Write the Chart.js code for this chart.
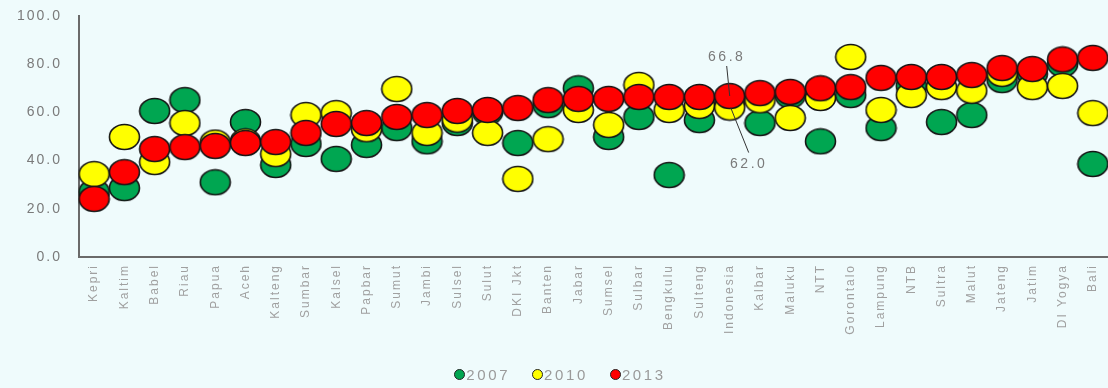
<!DOCTYPE html>
<html>
<head>
<meta charset="utf-8">
<script src="https://cdn.jsdelivr.net/npm/chart.js@4.4.1/dist/chart.umd.min.js"></script>
<style>
  html, body { margin: 0; padding: 0; background: #effbfc; }
  #wrap { position: relative; width: 1108px; height: 388px; }
  #legend { position: absolute; left: 6px; width: 1108px; top: 366px; text-align: center;
            font-family: "Liberation Sans", Arial, sans-serif; font-size: 15px; color: #9a9a9a; letter-spacing: 2.6px; }
  #legend span.item { display: inline-block; margin: 0 11px; }
  #legend span.dot { display: inline-block; width: 9px; height: 9px; border-radius: 50%;
                     border: 1px solid #222; margin-right: 1px; vertical-align: 0px; }
</style>
</head>
<body>
<div id="wrap">
  <canvas id="ipm-chart" width="1108" height="388"></canvas>
  <div id="legend"></div>
</div>
<script>
const provinces = ["Kepri","Kaltim","Babel","Riau","Papua","Aceh","Kalteng","Sumbar","Kalsel","Papbar",
  "Sumut","Jambi","Sulsel","Sulut","DKI Jkt","Banten","Jabar","Sumsel","Sulbar","Bengkulu",
  "Sulteng","Indonesia","Kalbar","Maluku","NTT","Gorontalo","Lampung","NTB","Sultra","Malut",
  "Jateng","Jatim","DI Yogya","Bali"];

const values2007 = [27.0, 28.6, 60.6, 65.1, 31.0, 56.0, 38.2, 46.9, 40.7, 46.5,
  53.5, 48.0, 55.6, 60.0, 47.3, 63.0, 70.0, 49.8, 58.1, 34.0,
  56.8, 64.0, 55.6, 67.0, 48.0, 67.2, 53.5, 71.0, 56.0, 58.9,
  73.4, 76.0, 80.0, 38.6];

const values2010 = [34.4, 49.8, 39.4, 55.6, 47.5, 48.0, 42.7, 58.9, 59.7, 53.0,
  69.7, 51.5, 57.0, 51.5, 32.4, 48.9, 61.0, 54.8, 71.4, 61.0,
  62.7, 62.0, 65.0, 57.7, 66.0, 83.0, 61.0, 67.2, 70.5, 69.0,
  76.0, 70.5, 71.0, 59.7];

const values2013 = [24.1, 35.2, 44.8, 45.6, 46.1, 47.3, 47.7, 51.5, 55.2, 55.6,
  58.1, 58.9, 60.6, 61.0, 61.8, 65.1, 65.6, 65.6, 66.4, 66.4,
  66.4, 66.8, 68.0, 68.5, 70.0, 70.5, 74.3, 74.7, 74.7, 75.5,
  78.4, 78.0, 82.0, 82.6];

const yTicks = [0, 20, 40, 60, 80, 100];
const seriesNames = ["2007", "2010", "2013"];
const seriesColors = ["#00a651", "#ffff00", "#ff0000"];

// which category gets the callout labels
const calloutIndex = provinces.indexOf("Indonesia");
const FONT = "'Liberation Sans', Arial, sans-serif";

// flattened round marker, like the original picture
function ellipseMarker(color) {
  const c = document.createElement("canvas");
  c.width = 33; c.height = 28;
  const g = c.getContext("2d");
  g.beginPath();
  g.ellipse(16.5, 14, 15, 12.5, 0, 0, Math.PI * 2);
  g.fillStyle = color;
  g.fill();
  g.lineWidth = 1.6;
  g.strokeStyle = "#151515";
  g.stroke();
  return c;
}

function dotDataset(name, color, data, order) {
  return {
    label: name,
    data: data,
    showLine: false,
    pointStyle: ellipseMarker(color),
    pointRadius: 15,
    pointHoverRadius: 15,
    backgroundColor: color,
    borderColor: "#151515",
    clip: false,
    order: order
  };
}

const spacingPlugin = {
  id: "spacing",
  beforeLayout(chart) { chart.ctx.letterSpacing = "2px"; },
  beforeDraw(chart) { chart.ctx.letterSpacing = "2px"; }
};

const calloutPlugin = {
  id: "callout",
  afterDatasetsDraw(chart) {
    const ctx = chart.ctx;
    const xs = chart.scales.x, ys = chart.scales.y;
    const xi = xs.getPixelForValue(calloutIndex);
    const yRed = ys.getPixelForValue(values2013[calloutIndex]);
    const yYel = ys.getPixelForValue(values2010[calloutIndex]);
    ctx.save();
    ctx.strokeStyle = "#333";
    ctx.lineWidth = 1;
    ctx.beginPath();
    ctx.moveTo(xi - 3, yRed - 30);
    ctx.lineTo(xi, yRed);
    ctx.moveTo(xi + 1, yYel);
    ctx.lineTo(xi + 19, yYel + 45);
    ctx.stroke();
    ctx.fillStyle = "#7a7a7a";
    ctx.font = "14px " + FONT;
    ctx.letterSpacing = "2.5px";
    ctx.textAlign = "center";
    ctx.textBaseline = "middle";
    ctx.fillText(values2013[calloutIndex].toFixed(1), xi - 3, yRed - 39);
    ctx.fillText(values2010[calloutIndex].toFixed(1), xi + 19, yYel + 57);
    ctx.restore();
  }
};

const ctx = document.getElementById("ipm-chart").getContext("2d");
new Chart(ctx, {
  type: "line",
  data: {
    labels: provinces,
    datasets: [
      dotDataset(seriesNames[0], seriesColors[0], values2007, 3),
      dotDataset(seriesNames[1], seriesColors[1], values2010, 2),
      dotDataset(seriesNames[2], seriesColors[2], values2013, 1)
    ]
  },
  plugins: [spacingPlugin, calloutPlugin],
  options: {
    responsive: false,
    animation: false,
    layout: { autoPadding: false, padding: { top: 16, right: 0, bottom: 0, left: 0 } },
    plugins: {
      legend: { display: false },
      tooltip: { enabled: false }
    },
    scales: {
      x: {
        type: "category",
        offset: true,
        grid: { display: false, drawTicks: false },
        border: { display: true, color: "#6a6a6a", width: 2 },
        afterFit: (scale) => { scale.height = 131; scale.paddingRight = 0; scale.paddingLeft = 0; },
        ticks: {
          autoSkip: false,
          minRotation: 90,
          maxRotation: 90,
          padding: 7,
          color: "#a0a0a0",
          font: { size: 12, family: FONT }
        }
      },
      y: {
        min: 0,
        max: 100,
        afterFit: (scale) => { scale.width = 79; scale.paddingTop = 0; scale.paddingBottom = 0; },
        afterBuildTicks: (scale) => { scale.ticks = yTicks.map(v => ({ value: v })); },
        grid: { display: false, drawTicks: false },
        border: { display: true, color: "#6a6a6a", width: 2 },
        ticks: {
          padding: 17,
          color: "#7a7a7a",
          font: { size: 14, family: FONT },
          callback: (v) => Number(v).toFixed(1)
        }
      }
    }
  }
});

// legend, built from the series names and colours
document.getElementById("legend").innerHTML = seriesNames.map((n, i) =>
  `<span class="item"><span class="dot" style="background:${seriesColors[i]}"></span>${n}</span>`
).join("");
</script>
</body>
</html>
